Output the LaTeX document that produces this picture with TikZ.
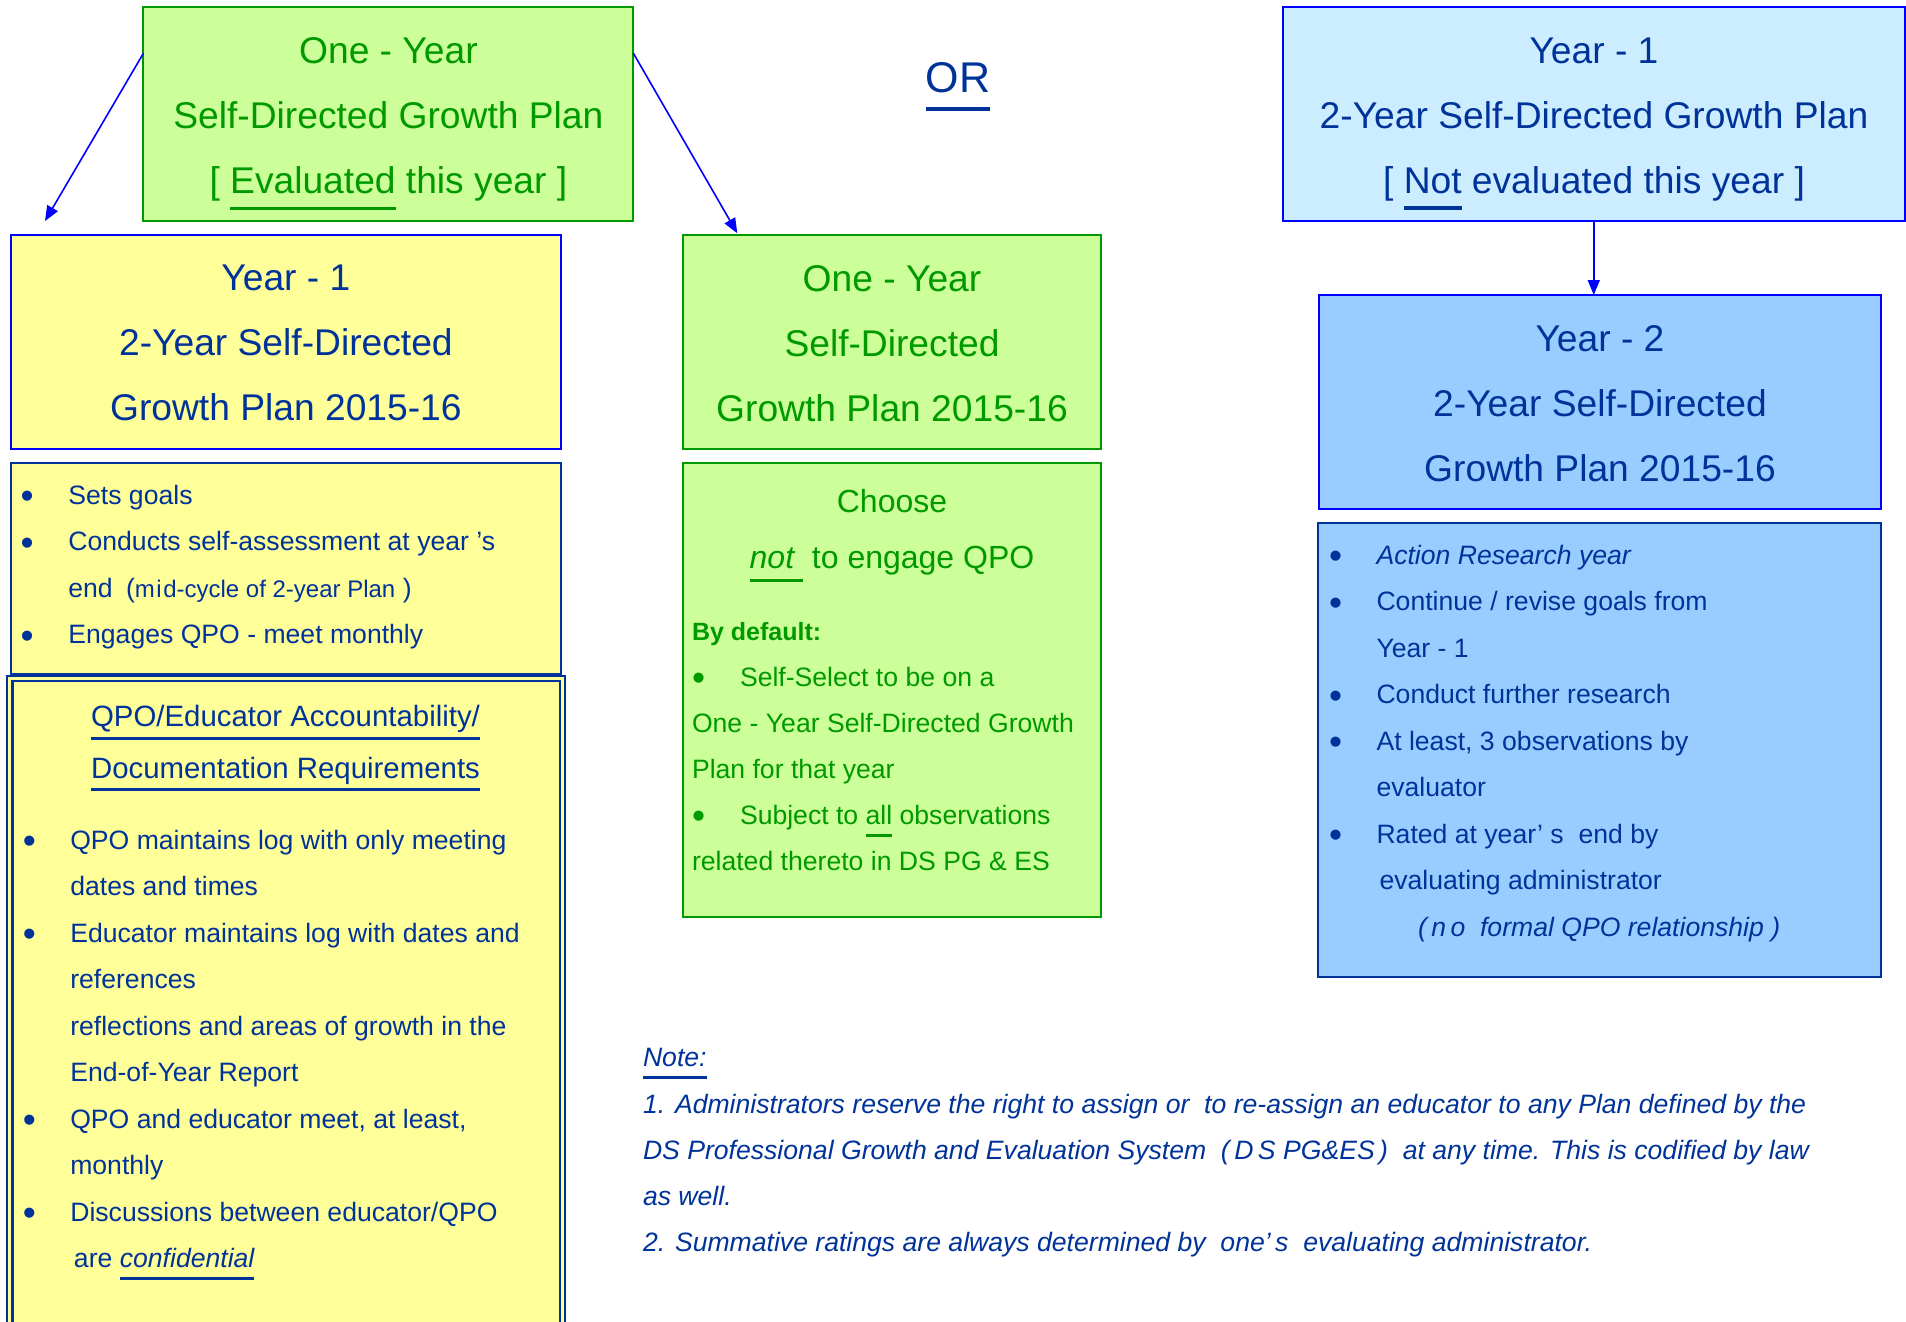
\documentclass[tikz,border=0pt]{standalone}
\usepackage{fontspec}
\setmainfont{Liberation Sans}
\usetikzlibrary{arrows.meta,calc}
\definecolor{gtext}{HTML}{009900}
\definecolor{gfill}{HTML}{CCFF99}
\definecolor{navy}{HTML}{003399}
\definecolor{bluebr}{HTML}{0000FF}
\definecolor{yfill}{HTML}{FFFF99}
\definecolor{lbfill}{HTML}{CCECFF}
\definecolor{bfill}{HTML}{99CCFF}
\newcommand\ulx[3][3pt]{\leavevmode\setbox0=\hbox{#3}\rlap{\rule[#2]{\wd0}{#1}}\box0\relax}
\newcommand\bul[1]{\makebox[#1][l]{\raisebox{-4.5pt}{\scalebox{1.4}{\textbullet}}}}
\newcommand\ttlfont{\fontsize{37.2pt}{65pt}\selectfont}
\newcommand\bodyfont{\fontsize{26.6pt}{46.5pt}\selectfont}
\tikzset{
 box/.style={anchor=north west, inner sep=0pt, outer sep=0pt, line width=2pt},
 tb/.style={anchor=base, inner sep=0pt, outer sep=0pt},
 tbl/.style={anchor=base west, inner sep=0pt, outer sep=0pt},
 arr/.style={draw=bluebr, line width=1.6pt, -{Triangle[length=15pt,width=12pt]}}
}
\begin{document}
\begin{tikzpicture}[x=1pt,y=-1pt]
\useasboundingbox (0,0) rectangle (1906,1322);
\fill[white] (0,0) rectangle (1906,1322);

% boxes
\node[box, draw=gtext, fill=gfill, minimum width=490pt, minimum height=214pt] (A) at (143.4,7.3) {};
\node[box, draw=bluebr, fill=lbfill, minimum width=621.5pt, minimum height=214pt] (B) at (1283,6.7) {};
\node[box, draw=bluebr, fill=yfill, line width=2.4pt, minimum width=550.3pt, minimum height=214.3pt] (C) at (10.7,234.7) {};
\node[box, draw=gtext, fill=gfill, minimum width=418.6pt, minimum height=214.3pt] (H) at (682.7,234.7) {};
\node[box, draw=bluebr, fill=bfill, minimum width=562.7pt, minimum height=214pt] (D) at (1318.7,295) {};
\node[box, draw=navy, fill=bfill, minimum width=563pt, minimum height=454pt] (E) at (1318.4,522.7) {};
\node[box, draw=navy, fill=yfill, minimum width=550.1pt, minimum height=211.3pt] (F) at (11.1,462.7) {};
\node[box, draw=gtext, fill=gfill, minimum width=418.6pt, minimum height=454pt] (I) at (682.7,462.7) {};
\node[box, draw=navy, fill=yfill, line width=2.2pt, double=yfill, double distance=3pt, minimum width=552.9pt, minimum height=700pt] (G) at (9.8,678.5) {};

% titles
\node[tb, font=\ttlfont, text=gtext] (At) at (388.4,63.3) {\parbox[t]{480pt}{\centering One - Year\\Self-Directed Growth Plan\\{[} \ulx[3.5pt]{-16.75pt}{Evaluated} this year ]}};
\node[tb, font=\fontsize{43pt}{50pt}\selectfont, text=navy] (or) at (958,92.7) {\ulx[3.3pt]{-18pt}{OR}};
\node[tb, font=\ttlfont, text=navy] (Bt) at (1594,63.3) {\parbox[t]{610pt}{\centering Year - 1\\2-Year Self-Directed Growth Plan\\{[} \ulx[3.5pt]{-16.5pt}{Not} evaluated this year ]}};
\node[tb, font=\ttlfont, text=navy] (Ct) at (285.9,290.7) {\parbox[t]{540pt}{\centering Year - 1\\2-Year Self-Directed\\Growth Plan 2015-16}};
\node[tb, font=\ttlfont, text=gtext] (Ht) at (892,291) {\parbox[t]{410pt}{\centering One - Year\\Self-Directed\\Growth Plan 2015-16}};
\node[tb, font=\ttlfont, text=navy] (Dt) at (1600,351.7) {\parbox[t]{550pt}{\centering Year - 2\\2-Year Self-Directed\\Growth Plan 2015-16}};

% yellow bullets
\node[tbl, font=\bodyfont, text=navy] (Ft) at (20.5,504) {\parbox[t]{535pt}{\raggedright
\bul{47.9pt}Sets goals\\
\bul{47.9pt}Conducts self-assessment at year ’s\\
\hspace*{47.9pt}end\enspace({\fontsize{24pt}{46.5pt}\selectfont m\kern1.5pt i\kern1.5pt d-cycle of 2-year Plan} )\\
\bul{47.9pt}Engages QPO - meet monthly}};

\node[tb, font=\fontsize{29.4pt}{51.6pt}\selectfont, text=navy] (Gh) at (285.5,726.7) {\parbox[t]{530pt}{\centering \ulx[2.8pt]{-13pt}{QPO/Educator Accountability/}\\\ulx[2.8pt]{-12.5pt}{Documentation Requirements}}};
\node[tbl, font=\bodyfont, text=navy] (Gt) at (23,849) {\parbox[t]{535pt}{\raggedright
\bul{47.3pt}QPO maintains log with only meeting\\
\hspace*{47.3pt}dates and times\\
\bul{47.3pt}Educator maintains log with dates and\\
\hspace*{47.3pt}references\\
\hspace*{47.3pt}reflections and areas of growth in the\\
\hspace*{47.3pt}End-of-Year Report\\
\bul{47.3pt}QPO and educator meet, at least,\\
\hspace*{47.3pt}monthly\\
\bul{47.3pt}Discussions between educator/QPO\\
\hspace*{51pt}are \ulx{-12.2pt}{\itshape confidential}}};

% green box text
\node[tb, font=\fontsize{32pt}{55.6pt}\selectfont, text=gtext] (It) at (892,512.7) {\parbox[t]{410pt}{\centering Choose\\\ulx{-13.2pt}{\itshape not\ }\ to engage QPO}};
\node[tbl, font=\fontsize{26.6pt}{46pt}\selectfont, text=gtext] (Ib) at (692,640) {\parbox[t]{405pt}{\raggedright
{\bfseries\fontsize{25pt}{46pt}\selectfont By default:}\\
\bul{48pt}Self-Select to be on a\\
One - Year Self-Directed Growth\\
Plan for that year\\
\bul{48pt}Subject to \ulx{-13pt}{all} observations\\
related thereto in DS PG \& ES}};

% blue bullets
\node[tbl, font=\bodyfont, text=navy] (Et) at (1329,564) {\parbox[t]{545pt}{\raggedright
\bul{47.5pt}{\itshape Action Research year}\\
\bul{47.5pt}Continue / revise goals from\\
\hspace*{47.5pt}Year - 1\\
\bul{47.5pt}Conduct further research\\
\bul{47.5pt}At least, 3 observations by\\
\hspace*{47.5pt}evaluator\\
\bul{47.5pt}Rated at year’ s\ \ end by\\
\hspace*{50.5pt}evaluating administrator\\
\hspace*{89pt}{\itshape (\,n\,o\ \ formal QPO relationship )}}};

% note
\node[tbl, font=\fontsize{26.6pt}{46.3pt}\selectfont\itshape, text=navy] (N) at (643,1066.7) {\parbox[t]{1255pt}{\raggedright
\ulx{-12pt}{Note:}\\
1. Administrators reserve the right to assign or\ \ to re-assign an educator to any Plan defined by the\\
DS Professional Growth and Evaluation System\ \ (\,D\,S PG\&ES\,)\ \ at any time. This is codified by law\\
as well.\\
2. Summative ratings are always determined by\ \ one’\,s\ \ evaluating administrator.}};

% arrows
\coordinate (Ls) at ($(A.north west)+(0,46)$);
\coordinate (Rs) at ($(A.north east)+(0,46)$);
\coordinate (Le) at ($(C.north west)+(34.3,-13.7)$);
\coordinate (Re) at ($(H.north west)+(54.6,-1.4)$);
\draw[arr] (Ls) -- (Le);
\draw[arr] (Rs) -- (Re);
\draw[arr] (B.south) -- (B.south |- D.north);
\end{tikzpicture}
\end{document}
